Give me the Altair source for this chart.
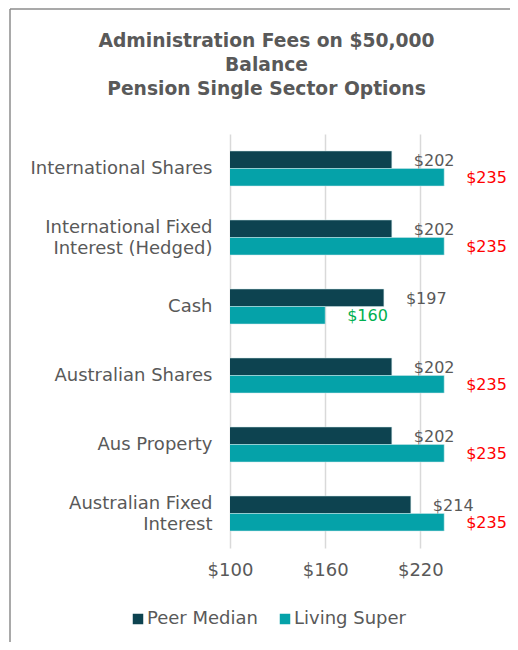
import altair as alt
import pandas as pd

categories = [
    "International Shares",
    "International Fixed|Interest (Hedged)",
    "Cash",
    "Australian Shares",
    "Aus Property",
    "Australian Fixed|Interest",
]
series = ["Peer Median", "Living Super"]
peer_median = [202, 202, 197, 202, 202, 214]
living_super = [235, 235, 160, 235, 235, 235]
x_ticks = [100, 160, 220]
title_lines = ["Administration Fees on $50,000", "Balance", "Pension Single Sector Options"]

GRAY = "#595959"
rows = []
for c, p, l in zip(categories, peer_median, living_super):
    rows.append({"cat": c, "series": series[0], "value": p, "lc": GRAY})
    lcol = "#FF0000" if l > p else "#00B050"
    rows.append({"cat": c, "series": series[1], "value": l, "lc": lcol})
df = pd.DataFrame(rows)

FONT = "DejaVu Sans"

yenc = alt.Y("cat:N", sort=categories,
             scale=alt.Scale(paddingInner=0.493, paddingOuter=0.2465),
             axis=alt.Axis(title=None, labelExpr="split(datum.label, '|')",
                           labelFontSize=18, labelColor=GRAY, labelFont=FONT,
                           labelPadding=18, ticks=False, domain=False,
                           labelLineHeight=21, labelLimit=300,
                           labelOffset={"condition": {"test": "indexof(datum.value, '|') >= 0",
                                                      "value": -10},
                                        "value": 0}))
yoff = alt.YOffset("series:N", sort=series, scale=alt.Scale(paddingInner=0, paddingOuter=0))
xenc = alt.X("value:Q", scale=alt.Scale(domain=[100, 262], nice=False, zero=False),
             axis=alt.Axis(title=None, values=x_ticks, format="$.0f", labelFontSize=18,
                           labelColor=GRAY, labelFont=FONT, labelPadding=13, ticks=False,
                           labelFlush=False,
                           domain=False, grid=True, gridColor="#d9d9d9", gridWidth=1.5))

base = alt.Chart(df)
bars = base.mark_bar(clip=True, stroke="#cfe8ea", strokeWidth=0.5).encode(
    x=xenc, y=yenc, yOffset=yoff,
    color=alt.Color("series:N", sort=series,
                    scale=alt.Scale(domain=series, range=["#0d4350", "#05a2a9"]),
                    legend=alt.Legend(title=None, orient="none", direction="horizontal",
                                      legendX=-101, legendY=476, symbolType="square",
                                      symbolSize=110, symbolStrokeWidth=0,
                                      labelFontSize=18, labelColor=GRAY, labelFont=FONT,
                                      columnPadding=18, labelOffset=0)),
)
labels = base.mark_text(align="left", baseline="middle", dx=22, dy=1, fontSize=16,
                        font=FONT).encode(
    x="value:Q", y=alt.Y("cat:N", sort=categories), yOffset=yoff,
    text=alt.Text("value:Q", format="$.0f"),
    color=alt.Color("lc:N", scale=None),
)
frame_left = alt.Chart(alt.Data(values=[{}])).mark_rule(color="#8c8c8c", strokeWidth=1.5).encode(
    x=alt.value(-220), y=alt.value(-125), y2=alt.value(520))
frame_top = alt.Chart(alt.Data(values=[{}])).mark_rule(color="#8c8c8c", strokeWidth=1.5).encode(
    x=alt.value(-220), x2=alt.value(300), y=alt.value(-125))

chart = alt.layer(bars, labels, frame_left, frame_top).properties(
    width=257, height=414,
    title=alt.TitleParams(text=title_lines, fontSize=18.7, fontWeight="bold", color=GRAY,
                          font=FONT, lineHeight=24, anchor="middle", frame="group",
                          dx=-92, offset=-90),
    autosize=alt.AutoSizeParams(type="none"),
    padding={"left": 222, "top": 126, "right": 23, "bottom": 94},
).configure(background="white").configure_view(strokeWidth=0)

chart.save("out.html", embed_options={"renderer": "svg", "actions": False})
